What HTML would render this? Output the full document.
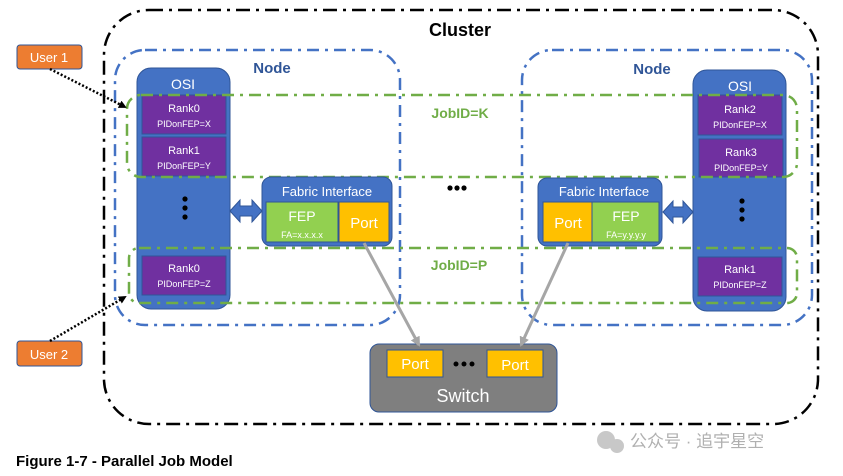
<!DOCTYPE html>
<html><head><meta charset="utf-8"><style>
html,body{margin:0;padding:0;background:#fff;}
svg{display:block;font-family:"Liberation Sans","Noto Sans CJK SC",sans-serif;}
</style></head><body>
<svg width="843" height="476" viewBox="0 0 843 476" xmlns="http://www.w3.org/2000/svg">
<defs>
<marker id="ab" markerWidth="8" markerHeight="8" refX="6" refY="4" orient="auto" markerUnits="userSpaceOnUse"><path d="M0,0 L8,4 L0,8 z" fill="#000"/></marker>
<marker id="ag" markerWidth="10" markerHeight="10" refX="8" refY="5" orient="auto" markerUnits="userSpaceOnUse"><path d="M0,0 L10,5 L0,10 z" fill="#a6a6a6"/></marker>
</defs>
<!-- cluster -->
<rect x="104" y="10" width="714" height="414" rx="45" fill="none" stroke="#000" stroke-width="2.5" stroke-dasharray="14,6,3,6"/>
<text x="460" y="36" font-size="18" font-weight="bold" text-anchor="middle" fill="#000">Cluster</text>
<!-- nodes -->
<rect x="115" y="50" width="285" height="275" rx="30" fill="none" stroke="#4472c4" stroke-width="2.5" stroke-dasharray="12,6,3,6"/>
<text x="272" y="73" font-size="15" font-weight="bold" text-anchor="middle" fill="#2f5597">Node</text>
<rect x="522" y="50" width="290" height="275" rx="30" fill="none" stroke="#4472c4" stroke-width="2.5" stroke-dasharray="12,6,3,6"/>
<text x="652" y="74" font-size="15" font-weight="bold" text-anchor="middle" fill="#2f5597">Node</text>
<!-- OSI left -->
<rect x="137" y="68" width="93" height="241" rx="14" fill="#4472c4" stroke="#2f5597"/>
<text x="183" y="89" font-size="14" text-anchor="middle" fill="#fff">OSI</text>
<rect x="142" y="95" width="84" height="39" fill="#7030a0" stroke="#2f5597"/>
<text x="184" y="112" font-size="11" text-anchor="middle" fill="#fff">Rank0</text>
<text x="184" y="127" font-size="9" text-anchor="middle" fill="#fff">PIDonFEP=X</text>
<rect x="142" y="137" width="84" height="39" fill="#7030a0" stroke="#2f5597"/>
<text x="184" y="154" font-size="11" text-anchor="middle" fill="#fff">Rank1</text>
<text x="184" y="169" font-size="9" text-anchor="middle" fill="#fff">PIDonFEP=Y</text>
<circle cx="185" cy="199" r="2.6"/><circle cx="185" cy="208" r="2.6"/><circle cx="185" cy="217" r="2.6"/>
<rect x="142" y="256" width="84" height="39" fill="#7030a0" stroke="#2f5597"/>
<text x="184" y="272" font-size="11" text-anchor="middle" fill="#fff">Rank0</text>
<text x="184" y="287" font-size="9" text-anchor="middle" fill="#fff">PIDonFEP=Z</text>
<!-- OSI right -->
<rect x="693" y="70" width="93" height="241" rx="14" fill="#4472c4" stroke="#2f5597"/>
<text x="740" y="91" font-size="14" text-anchor="middle" fill="#fff">OSI</text>
<rect x="698" y="95" width="84" height="40" fill="#7030a0" stroke="#2f5597"/>
<text x="740" y="113" font-size="11" text-anchor="middle" fill="#fff">Rank2</text>
<text x="740" y="128" font-size="9" text-anchor="middle" fill="#fff">PIDonFEP=X</text>
<rect x="699" y="139" width="84" height="38" fill="#7030a0" stroke="#2f5597"/>
<text x="741" y="156" font-size="11" text-anchor="middle" fill="#fff">Rank3</text>
<text x="741" y="171" font-size="9" text-anchor="middle" fill="#fff">PIDonFEP=Y</text>
<circle cx="742" cy="201" r="2.6"/><circle cx="742" cy="210" r="2.6"/><circle cx="742" cy="219" r="2.6"/>
<rect x="698" y="257" width="84" height="39" fill="#7030a0" stroke="#2f5597"/>
<text x="740" y="273" font-size="11" text-anchor="middle" fill="#fff">Rank1</text>
<text x="740" y="288" font-size="9" text-anchor="middle" fill="#fff">PIDonFEP=Z</text>
<!-- job boxes -->
<rect x="127" y="95" width="670" height="82" rx="14" fill="none" stroke="#70ad47" stroke-width="2.5" stroke-dasharray="12,6,3,6"/>
<text x="460" y="118" font-size="14" font-weight="bold" text-anchor="middle" fill="#70ad47">JobID=K</text>
<rect x="129" y="248" width="668" height="55" rx="10" fill="none" stroke="#70ad47" stroke-width="2.5" stroke-dasharray="12,6,3,6"/>
<text x="459" y="270" font-size="14" font-weight="bold" text-anchor="middle" fill="#70ad47">JobID=P</text>
<!-- dots center -->
<circle cx="450" cy="188" r="2.6"/><circle cx="457" cy="188" r="2.6"/><circle cx="464" cy="188" r="2.6"/>
<!-- fabric left -->
<rect x="262" y="177" width="130" height="69" rx="9" fill="#4472c4" stroke="#2f5597"/>
<text x="327" y="196" font-size="13" text-anchor="middle" fill="#fff">Fabric Interface</text>
<rect x="266" y="202" width="72" height="40" fill="#92d050" stroke="#2f5597"/>
<text x="302" y="221" font-size="14" text-anchor="middle" fill="#fff">FEP</text>
<text x="302" y="238" font-size="9" text-anchor="middle" fill="#fff">FA=x.x.x.x</text>
<rect x="339" y="202" width="50" height="40" fill="#ffc000" stroke="#2f5597"/>
<text x="364" y="228" font-size="15" text-anchor="middle" fill="#fff">Port</text>
<!-- fabric right -->
<rect x="538" y="178" width="124" height="68" rx="9" fill="#4472c4" stroke="#2f5597"/>
<text x="604" y="196" font-size="13" text-anchor="middle" fill="#fff">Fabric Interface</text>
<rect x="543" y="202" width="49" height="40" fill="#ffc000" stroke="#2f5597"/>
<text x="568" y="228" font-size="15" text-anchor="middle" fill="#fff">Port</text>
<rect x="592" y="202" width="67" height="40" fill="#92d050" stroke="#2f5597"/>
<text x="626" y="221" font-size="14" text-anchor="middle" fill="#fff">FEP</text>
<text x="626" y="238" font-size="9" text-anchor="middle" fill="#fff">FA=y.y.y.y</text>
<!-- double arrows -->
<path d="M230,211 L240,200 L240,206 L252,206 L252,200 L262,211 L252,222 L252,216 L240,216 L240,222 Z" fill="#4472c4" stroke="#2f5597"/>
<path d="M663,212 L673,201 L673,207 L683,207 L683,201 L693,212 L683,223 L683,217 L673,217 L673,223 Z" fill="#4472c4" stroke="#2f5597"/>
<!-- switch -->
<rect x="370" y="344" width="187" height="68" rx="9" fill="#7f7f7f" stroke="#2f5597"/>
<rect x="387" y="350" width="56" height="27" fill="#ffc000" stroke="#2f5597"/>
<text x="415" y="369" font-size="15" text-anchor="middle" fill="#fff">Port</text>
<rect x="487" y="350" width="56" height="27" fill="#ffc000" stroke="#2f5597"/>
<text x="515" y="370" font-size="15" text-anchor="middle" fill="#fff">Port</text>
<circle cx="456" cy="364" r="2.5"/><circle cx="464" cy="364" r="2.5"/><circle cx="472" cy="364" r="2.5"/>
<text x="463" y="402" font-size="18" text-anchor="middle" fill="#fff">Switch</text>
<!-- gray lines -->
<line x1="364" y1="243" x2="419" y2="345" stroke="#a6a6a6" stroke-width="3" marker-end="url(#ag)"/>
<line x1="568" y1="243" x2="521" y2="345" stroke="#a6a6a6" stroke-width="3" marker-end="url(#ag)"/>
<!-- users -->
<rect x="17" y="45" width="65" height="24" rx="3" fill="#ed7d31" stroke="#2f5597"/>
<text x="49" y="62" font-size="13" text-anchor="middle" fill="#fff">User 1</text>
<rect x="17" y="341" width="65" height="25" rx="3" fill="#ed7d31" stroke="#2f5597"/>
<text x="49" y="359" font-size="13" text-anchor="middle" fill="#fff">User 2</text>
<line x1="50" y1="69" x2="125" y2="107" stroke="#000" stroke-width="2.5" stroke-dasharray="2,2" marker-end="url(#ab)"/>
<line x1="50" y1="341" x2="125" y2="297" stroke="#000" stroke-width="2.5" stroke-dasharray="2,2" marker-end="url(#ab)"/>
<!-- caption -->
<text x="16" y="466" font-size="15" font-weight="bold" fill="#000">Figure 1-7 - Parallel Job Model</text>
<text x="630" y="447" font-size="17" fill="#b0b0b0">公众号 · 追宇星空</text>
<circle cx="606" cy="440" r="9" fill="#c8c8c8"/><circle cx="617" cy="446" r="7" fill="#c8c8c8"/>
</svg>
</body></html>
